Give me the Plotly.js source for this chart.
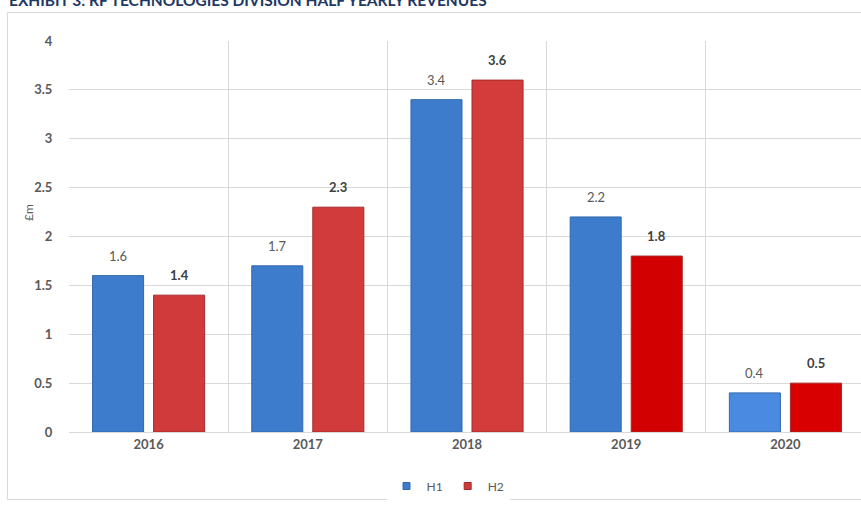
<!DOCTYPE html>
<html>
<head>
<meta charset="utf-8">
<script src="https://cdn.plot.ly/plotly-3.0.1.min.js"></script>
<style>
html,body{margin:0;padding:0;background:#fff;overflow:hidden;width:861px;height:505px;}
#chart{position:absolute;left:0;top:0;width:861px;height:505px;}
</style>
</head>
<body>
<div id="chart"></div>
<script>
// ---- data ----
var years = ['2016', '2017', '2018', '2019', '2020'];
var h1 = [1.6, 1.7, 3.4, 2.2, 0.4];
var h2 = [1.4, 2.3, 3.6, 1.8, 0.5];
var seriesNames = ['H1', 'H2'];
var yTicks = [0, 0.5, 1, 1.5, 2, 2.5, 3, 3.5, 4];
var titleText = 'EXHIBIT 3: RF TECHNOLOGIES DIVISION HALF YEARLY REVENUES';
var yTitle = '£m';

// ---- styles ----
var h1Colors = ['#3d7bcc', '#3d7bcc', '#3d7bcc', '#3d7bcc', '#4a8ae0'];
var h1Lines = '#3468ad';
var h2Colors = ['#d03a3a', '#d23b3b', '#d43c3c', '#d20000', '#d80000'];
var h2Lines = '#a52a2a';
var FONT = 'Lato, Liberation Sans, sans-serif';

// geometry helpers (pixels -> paper)
var W = 861, H = 505, mL = 69, mR = 0, mT = 41, mB = 73;
var pw = W - mL - mR, ph = H - mT - mB;
function px(x){ return (x - mL) / pw; }
function py(y){ return (H - mB - y) / ph; }
// the reference is cropped on the right: last category cell is ~4px wider than the window
var xMax = years.length - 0.5 - 4 / 159;

var traces = [
  {type:'bar', name:seriesNames[0], x:years, y:h1, showlegend:false,
   marker:{color:h1Colors, line:{color:h1Lines, width:1}}, hoverinfo:'skip'},
  {type:'bar', name:seriesNames[1], x:years, y:h2, showlegend:false,
   marker:{color:h2Colors, line:{color:h2Lines, width:1}}, hoverinfo:'skip'},
  // legend entries (small square keys like the reference)
  {type:'scatter', mode:'markers', name:seriesNames[0], x:[null], y:[null],
   marker:{symbol:'square', size:7, color:h1Colors[0], line:{color:h1Lines, width:1}}},
  {type:'scatter', mode:'markers', name:seriesNames[1], x:[null], y:[null],
   marker:{symbol:'square', size:7, color:h2Colors[0], line:{color:h2Lines, width:1}}}
];

var annotations = [];
var off = 30.5;
years.forEach(function(yr, i){
  annotations.push({x:i, y:h1[i], xref:'x', yref:'y', text:String(h1[i]), showarrow:false,
    xshift:-off, yshift:20, yanchor:'middle',
    font:{family:FONT, size:13, color:'#595959'}});
  annotations.push({x:i, y:h2[i], xref:'x', yref:'y', text:'<b>'+h2[i]+'</b>', showarrow:false,
    xshift:off, yshift:20, yanchor:'middle',
    font:{family:FONT, size:13, color:'#404040'}});
});
annotations.push({xref:'paper', yref:'paper', x:px(7), y:py(11), xanchor:'left', yanchor:'bottom',
  text:'<b>'+titleText+'</b>', showarrow:false,
  font:{family:FONT, size:15.5, color:'#1f3864'}});
annotations.push({xref:'paper', yref:'paper', x:px(28), y:py(213), xanchor:'center', yanchor:'middle',
  text:yTitle, textangle:-90, showarrow:false,
  font:{family:FONT, size:12, color:'#595959'}});

var layout = {
  width:W, height:H,
  margin:{l:mL, r:mR, t:mT, b:mB, pad:0},
  paper_bgcolor:'#ffffff', plot_bgcolor:'#ffffff',
  barmode:'group', bargap:0.233, bargroupgap:0.164,
  font:{family:FONT, color:'#595959'},
  showlegend:true,
  legend:{orientation:'h', x:px(448), xanchor:'center', y:py(486), yanchor:'middle',
    font:{size:12, color:'#595959'}, itemwidth:30, tracegroupgap:0},
  xaxis:{type:'category', range:[-0.5, xMax], tickson:'boundaries', showgrid:true,
    gridcolor:'#d9d9d9', gridwidth:1,
    showline:true, linecolor:'#d9d9d9', linewidth:1, zeroline:false,
    ticks:'outside', ticklen:17, tickcolor:'rgba(0,0,0,0)', tickangle:0,
    tickfont:{size:13, color:'#595959', weight:'bold'}, fixedrange:true},
  yaxis:{range:[0,4], tickvals:yTicks, ticktext:yTicks.map(String), showgrid:true,
    gridcolor:'#d9d9d9', gridwidth:1, zeroline:false, showline:false,
    ticks:'outside', ticklen:13, tickcolor:'rgba(0,0,0,0)',
    tickfont:{size:13, color:'#595959', weight:'bold'}, fixedrange:true},
  shapes:[
    {type:'rect', xref:'paper', yref:'paper', x0:px(7.5), x1:px(875), y0:py(499.5), y1:py(12.5),
     line:{color:'#d9d9d9', width:1}, fillcolor:'rgba(0,0,0,0)', layer:'below'}
  ],
  annotations:annotations
};

Plotly.newPlot('chart', traces, layout, {staticPlot:true, displayModeBar:false});
</script>
</body>
</html>
